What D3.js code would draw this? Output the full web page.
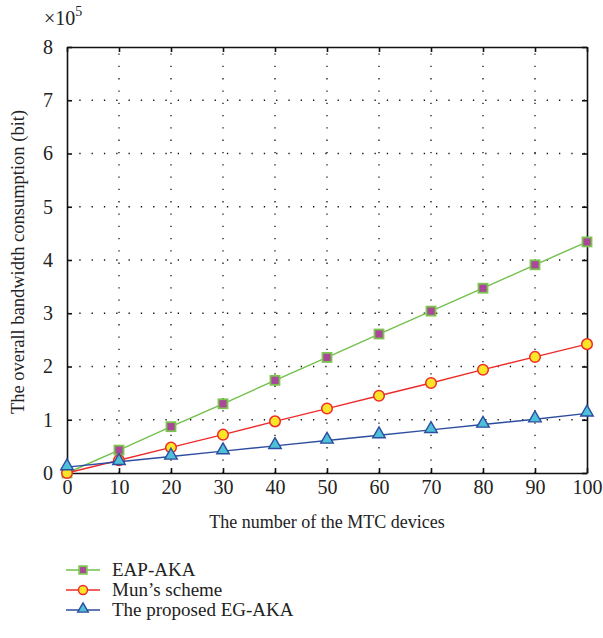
<!DOCTYPE html>
<html>
<head>
<meta charset="utf-8">
<script src="https://cdn.jsdelivr.net/npm/d3@7"></script>
<style>
  html, body { margin: 0; padding: 0; background: #fff; }
  svg text { font-family: "Liberation Serif", "DejaVu Serif", serif; fill: #222; }
</style>
</head>
<body>
<svg id="chart" width="603" height="638"></svg>
<script>
// Number of MTC devices
const devices = [0, 10, 20, 30, 40, 50, 60, 70, 80, 90, 100];
// Overall bandwidth consumption, in units of 10^5 bit
const eapAka = [0, 0.43, 0.87, 1.30, 1.74, 2.17, 2.61, 3.04, 3.47, 3.91, 4.34];
const munScheme = [0, 0.24, 0.48, 0.72, 0.97, 1.21, 1.45, 1.69, 1.94, 2.18, 2.42];
const egAka = [0.11, 0.21, 0.31, 0.41, 0.51, 0.61, 0.71, 0.81, 0.91, 1.01, 1.12];
const xTicks = [0, 10, 20, 30, 40, 50, 60, 70, 80, 90, 100];
const yTicks = [0, 1, 2, 3, 4, 5, 6, 7, 8];
const seriesNames = ["EAP-AKA", "Mun\u2019s scheme", "The proposed EG-AKA"];

const svg = d3.select("#chart");
const m = { left: 67, right: 587, top: 47, bottom: 473 };

const x = d3.scaleLinear().domain([0, 100]).range([m.left, m.right]);
const y = d3.scaleLinear().domain([0, 8]).range([m.bottom, m.top]);

const series = [
  { name: seriesNames[0], values: eapAka, line: "#72c04a", marker: "square", fill: "#a9479a", stroke: "#7cc44f" },
  { name: seriesNames[1], values: munScheme, line: "#ee2b2b", marker: "circle", fill: "#fbe526", stroke: "#ee2b2b" },
  { name: seriesNames[2], values: egAka, line: "#2d4d9f", marker: "triangle", fill: "#4ec0d8", stroke: "#2d4d9f" }
];

// dotted grid
const grid = svg.append("g").attr("stroke", "#111").attr("stroke-width", 1.3)
  .attr("stroke-dasharray", "1.3 11");
grid.selectAll("line.v").data(xTicks.slice(1, -1)).join("line")
  .attr("x1", d => x(d)).attr("x2", d => x(d))
  .attr("y1", m.bottom).attr("y2", m.top);
grid.selectAll("line.h").data(yTicks.slice(1, -1)).join("line")
  .attr("y1", d => y(d)).attr("y2", d => y(d))
  .attr("x1", m.left).attr("x2", m.right);

// axes
const tickFont = 20;
const xAxis = svg.append("g").attr("transform", `translate(0,${m.bottom})`)
  .call(d3.axisBottom(x).tickValues(xTicks).tickSize(-5).tickPadding(7).tickSizeOuter(0));
const yAxis = svg.append("g").attr("transform", `translate(${m.left},0)`)
  .call(d3.axisLeft(y).tickValues(yTicks).tickSize(-5).tickPadding(14).tickSizeOuter(0));
const xTop = svg.append("g").attr("transform", `translate(0,${m.top})`)
  .call(d3.axisTop(x).tickValues(xTicks).tickSize(-5).tickFormat("").tickSizeOuter(0));
const yRight = svg.append("g").attr("transform", `translate(${m.right},0)`)
  .call(d3.axisRight(y).tickValues(yTicks).tickSize(-5).tickFormat("").tickSizeOuter(0));
[xAxis, yAxis, xTop, yRight].forEach(g => {
  g.selectAll("path.domain").attr("stroke", "#111").attr("stroke-width", 1.6);
  g.selectAll(".tick line").attr("stroke", "#111").attr("stroke-width", 1.6);
  g.selectAll(".tick text").attr("font-family", "Liberation Serif, DejaVu Serif, serif")
    .attr("font-size", tickFont).attr("fill", "#222");
});

// multiplier label
const mult = svg.append("text").attr("x", 44).attr("y", 25).attr("font-size", 20);
mult.append("tspan").text("\u00d710");
mult.append("tspan").attr("dy", -9).attr("font-size", 14).text("5");

// axis titles
svg.append("text").attr("x", (m.left + m.right) / 2).attr("y", 528)
  .attr("text-anchor", "middle").attr("font-size", 18)
  .text("The number of the MTC devices");
svg.append("text")
  .attr("transform", `translate(24,${(m.top + m.bottom) / 2 + 2}) rotate(-90)`)
  .attr("text-anchor", "middle").attr("font-size", 18.5)
  .text("The overall bandwidth consumption (bit)");

// markers
function drawMarker(g, s, cx, cy, scale) {
  const k = scale || 1;
  if (s.marker === "square") {
    const h = 4.5 * k;
    g.append("rect").attr("x", cx - h).attr("y", cy - h).attr("width", 2 * h).attr("height", 2 * h)
      .attr("fill", s.fill).attr("stroke", s.stroke).attr("stroke-width", 1.8);
  } else if (s.marker === "circle") {
    g.append("circle").attr("cx", cx).attr("cy", cy).attr("r", 5.3 * k)
      .attr("fill", s.fill).attr("stroke", s.stroke).attr("stroke-width", 1.5);
  } else {
    const sym = d3.symbol().type(d3.symbolTriangle).size(68 * k * k);
    g.append("path").attr("d", sym()).attr("transform", `translate(${cx},${cy - 1})`)
      .attr("fill", s.fill).attr("stroke", s.stroke).attr("stroke-width", 1.4);
  }
}

const line = d3.line().x((d, i) => x(devices[i])).y(d => y(d));
series.forEach(s => {
  const g = svg.append("g");
  g.append("path").attr("d", line(s.values)).attr("fill", "none")
    .attr("stroke", s.line).attr("stroke-width", 1.4);
  s.values.forEach((v, i) => drawMarker(g, s, x(devices[i]), y(v)));
});

// legend
const legendY = [570, 590, 610];
series.forEach((s, i) => {
  const g = svg.append("g");
  const ly = legendY[i];
  g.append("line").attr("x1", 66).attr("x2", 100).attr("y1", ly).attr("y2", ly)
    .attr("stroke", s.line).attr("stroke-width", 1.4);
  drawMarker(g, s, 83, ly, 0.85);
  g.append("text").attr("x", 112).attr("y", ly + 6).attr("font-size", 19).text(s.name);
});
</script>
</body>
</html>
